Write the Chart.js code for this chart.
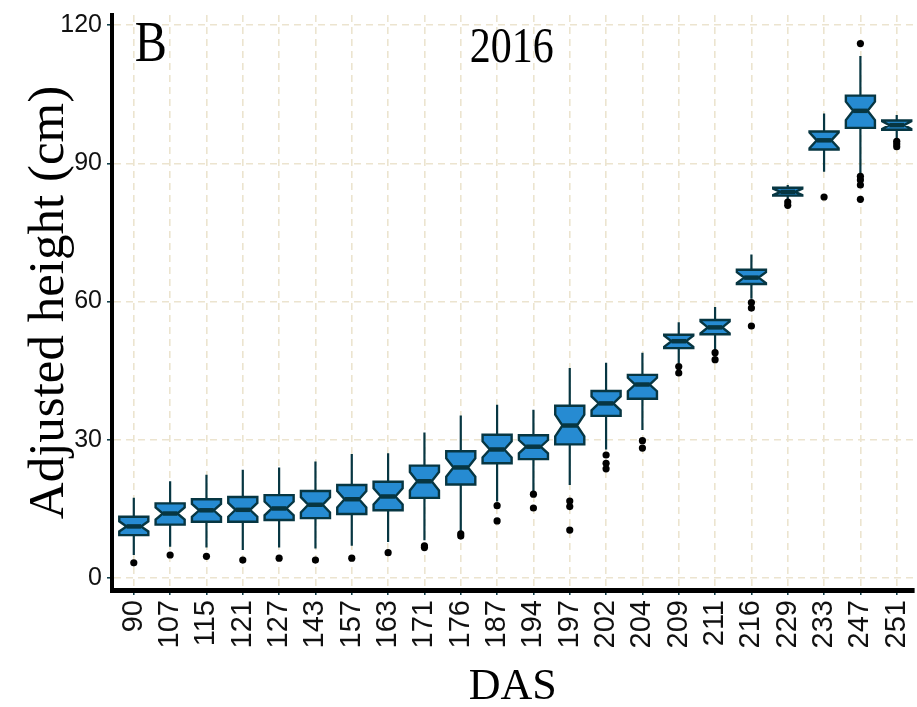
<!DOCTYPE html>
<html>
<head>
<meta charset="utf-8">
<title>Adjusted height by DAS, 2016</title>
<script src="https://cdn.jsdelivr.net/npm/chart.js@4/dist/chart.umd.min.js"></script>
<style>
  html, body { margin: 0; padding: 0; background: #ffffff; }
  #wrap { width: 917px; height: 707px; }
</style>
</head>
<body>
<div id="wrap"><canvas id="chart" width="917" height="707"></canvas></div>
<script>
// Days after sowing (one box per sampling date)
const days = ['90','107','115','121','127','143','157','163','171','176','187','194','197','202','204','209','211','216','229','233','247','251'];

// Five-number summaries of adjusted height (cm)
const whiskerLow  = [5.0, 6.8, 6.6, 6.1, 6.6, 6.4, 7.0, 7.8, 8.2, 10.2, 16.6, 18.8, 20.2, 27.9, 32.1, 46.6, 49.5, 60.6, 82.2, 88.2, 87.6, 95.3];
const q1          = [9.3, 11.6, 12.2, 12.2, 12.6, 13.0, 13.9, 14.7, 17.4, 20.3, 24.9, 25.8, 29.0, 35.2, 38.9, 49.9, 52.9, 63.8, 83.0, 93.0, 97.7, 97.3];
const median      = [11.2, 14.0, 14.7, 14.8, 15.1, 15.9, 17.1, 17.7, 21.0, 24.0, 27.9, 28.5, 33.1, 37.9, 42.0, 51.4, 54.4, 65.2, 83.8, 95.0, 101.4, 98.3];
const q3          = [13.3, 16.2, 17.1, 17.6, 18.0, 18.9, 20.2, 20.9, 24.4, 27.5, 31.1, 31.0, 37.4, 40.6, 44.1, 52.8, 56.0, 66.9, 84.7, 96.9, 104.7, 99.3];
const whiskerHigh = [17.4, 21.0, 22.4, 23.5, 24.0, 25.3, 26.9, 27.1, 31.6, 35.3, 37.6, 36.5, 45.6, 46.7, 48.9, 55.5, 58.8, 70.2, 85.3, 100.8, 113.3, 100.5];

// Half-height of the median notch (cm)
const notchHalf   = [1.1, 1.3, 1.4, 1.5, 1.5, 1.65, 1.8, 1.75, 2.0, 2.0, 1.75, 1.45, 2.35, 1.5, 1.45, 1.2, 1.3, 1.2, 0.7, 1.7, 2.0, 0.85];

// Outlying plants per date
const outliers = [
  [3.3], [5.0], [4.7], [3.9], [4.3], [3.9], [4.3], [5.5],
  [7.0, 6.6], [9.6, 9.1], [15.7, 12.4], [18.2, 15.2], [16.7, 15.5, 10.4],
  [26.7, 24.9, 23.7], [29.8, 28.2], [45.9, 44.5], [48.9, 47.4], [59.8, 58.6, 54.7],
  [81.6, 80.9], [82.7], [116.0, 87.2, 86.4, 85.3, 82.2], [94.8, 94.2, 93.6]
];

const yTicks = [0, 30, 60, 90, 120];

const panelLabel = 'B';
const yearLabel = '2016';

const FILL = '#268bd2';
const EDGE = '#073642';
const GRID = '#ece4cf';

const CATEGORY_PX = 36.33;   // spacing between neighbouring dates
const X_START = -0.6;        // room left of the first date, in category units

const outlierPoints = [];
outliers.forEach((vals, i) => vals.forEach(v => outlierPoints.push({ x: i, y: v })));

// Notched box-and-whisker drawing, positioned through the chart's scales
const notchedBoxes = {
  id: 'notchedBoxes',
  afterLayout(chart) {
    // keep a fixed pixel spacing between dates once the plot area is known
    const x = chart.scales.x;
    x.min = X_START;
    x.max = X_START + (chart.chartArea.right - chart.chartArea.left) / CATEGORY_PX;
    x.configure();
  },
  beforeDatasetsDraw(chart) {
    const { ctx, scales: { x, y } } = chart;
    const boxWidth = 0.8;     // in category units
    const notchWidth = 0.5;   // fraction of the box width at the median
    ctx.save();
    days.forEach((d, i) => {
      const cx = x.getPixelForValue(i);
      const xmin = x.getPixelForValue(i - boxWidth / 2);
      const xmax = x.getPixelForValue(i + boxWidth / 2);
      const indent = (1 - notchWidth) * (xmax - xmin) / 2;
      const pQ1 = y.getPixelForValue(q1[i]);
      const pQ3 = y.getPixelForValue(q3[i]);
      const pMed = y.getPixelForValue(median[i]);
      const pNLo = y.getPixelForValue(median[i] - notchHalf[i]);
      const pNHi = y.getPixelForValue(median[i] + notchHalf[i]);

      // whiskers
      ctx.strokeStyle = EDGE;
      ctx.lineWidth = 2.2;
      ctx.beginPath();
      ctx.moveTo(cx, pQ3);
      ctx.lineTo(cx, y.getPixelForValue(whiskerHigh[i]));
      ctx.moveTo(cx, pQ1);
      ctx.lineTo(cx, y.getPixelForValue(whiskerLow[i]));
      ctx.stroke();

      // notched box outline
      ctx.beginPath();
      ctx.moveTo(xmin, pQ3);
      ctx.lineTo(xmin, pNHi);
      ctx.lineTo(xmin + indent, pMed);
      ctx.lineTo(xmin, pNLo);
      ctx.lineTo(xmin, pQ1);
      ctx.lineTo(xmax, pQ1);
      ctx.lineTo(xmax, pNLo);
      ctx.lineTo(xmax - indent, pMed);
      ctx.lineTo(xmax, pNHi);
      ctx.lineTo(xmax, pQ3);
      ctx.closePath();
      ctx.fillStyle = FILL;
      ctx.fill();
      ctx.lineJoin = 'miter';
      ctx.lineWidth = 2.4;
      ctx.strokeStyle = EDGE;
      ctx.stroke();

      // median bar
      ctx.lineWidth = 4.5;
      ctx.lineCap = 'butt';
      ctx.beginPath();
      ctx.moveTo(xmin + indent, pMed);
      ctx.lineTo(xmax - indent, pMed);
      ctx.stroke();
    });
    ctx.restore();
  },
  afterDraw(chart) {
    const { ctx, scales: { x, y } } = chart;
    ctx.save();
    ctx.fillStyle = '#000';
    ctx.textBaseline = 'alphabetic';
    // panel letter
    ctx.save();
    ctx.translate(x.getPixelForValue(0) + 1, y.getPixelForValue(122.2) + 46);
    ctx.scale(0.86, 1);
    ctx.font = '56px "Liberation Serif"';
    ctx.textAlign = 'left';
    ctx.fillText(panelLabel, 0, 0);
    ctx.restore();
    // year
    ctx.save();
    ctx.translate(x.getPixelForValue(10.4), y.getPixelForValue(122.2) + 47);
    ctx.scale(0.84, 1);
    ctx.font = '50px "Liberation Serif"';
    ctx.textAlign = 'center';
    ctx.fillText(yearLabel, 0, 0);
    ctx.restore();
    ctx.restore();
  }
};

new Chart(document.getElementById('chart'), {
  type: 'scatter',
  data: {
    datasets: [{
      label: 'outliers',
      data: outlierPoints,
      pointRadius: 3.6,
      pointHoverRadius: 3.6,
      backgroundColor: '#000000',
      borderWidth: 0
    }]
  },
  options: {
    responsive: false,
    animation: false,
    devicePixelRatio: 1,
    layout: { padding: { top: 15, right: 0, left: 0, bottom: 0 } },
    plugins: { legend: { display: false }, tooltip: { enabled: false } },
    scales: {
      x: {
        type: 'linear',
        min: X_START,
        max: 21.4,
        afterBuildTicks: (s) => { s.ticks = days.map((d, i) => ({ value: i })); },
        afterFit: (s) => { s.height = 117; s.paddingLeft = 0; s.paddingRight = 0; },
        ticks: {
          autoSkip: false,
          minRotation: 90,
          maxRotation: 90,
          padding: 5,
          color: '#111111',
          font: { family: '"Liberation Sans", Arial, sans-serif', size: 29 },
          callback: (v) => days[v]
        },
        grid: {
          color: GRID,
          lineWidth: 1.6,
          tickColor: EDGE,
          tickLength: 5,
          tickWidth: 1.5
        },
        border: { display: true, color: '#000000', width: 5, dash: [7, 5] },
        title: {
          display: true,
          text: 'DAS',
          color: '#000000',
          font: { family: '"Liberation Serif", "Times New Roman", serif', size: 44, lineHeight: 0.9 },
          padding: { top: 0, bottom: 0 }
        }
      },
      y: {
        type: 'linear',
        min: -2.6,
        max: 122.2,
        afterBuildTicks: (s) => { s.ticks = yTicks.map(v => ({ value: v })); },
        afterFit: (s) => { s.width = 112; s.paddingTop = 0; s.paddingBottom = 0; },
        ticks: {
          padding: 5,
          color: '#111111',
          font: { family: '"Liberation Sans Narrow", "Liberation Sans", sans-serif', size: 25 }
        },
        grid: {
          color: GRID,
          lineWidth: 1.6,
          tickColor: EDGE,
          tickLength: 5,
          tickWidth: 1.5
        },
        border: { display: true, color: '#000000', width: 4, dash: [7, 5] },
        title: {
          display: true,
          text: 'Adjusted height (cm)',
          color: '#000000',
          font: { family: '"Liberation Serif", "Times New Roman", serif', size: 51, lineHeight: 1 },
          padding: { top: 24, bottom: 0 }
        }
      }
    }
  },
  plugins: [notchedBoxes]
});
</script>
</body>
</html>
